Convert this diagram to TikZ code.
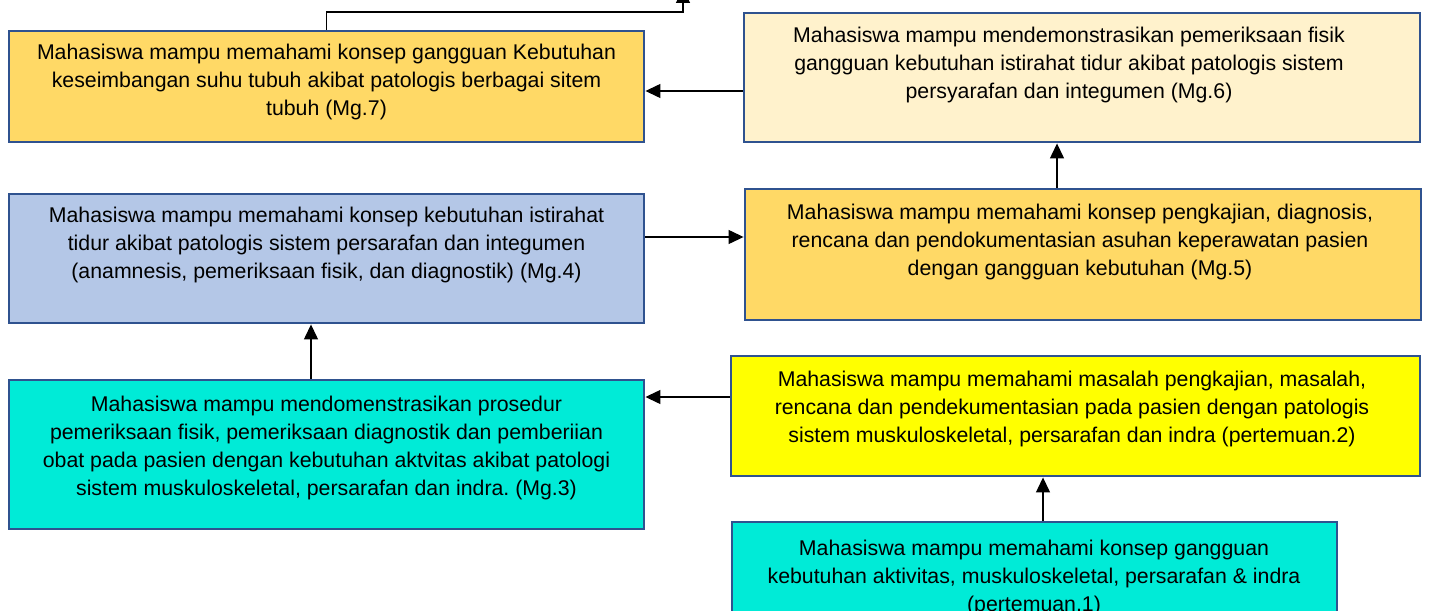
\documentclass[tikz,border=0pt]{standalone}
\usepackage{fontspec}
\setmainfont{Liberation Sans}
\usetikzlibrary{arrows.meta,calc}
\definecolor{bordc}{HTML}{2F528F}
\definecolor{gold}{HTML}{FFD966}
\definecolor{cream}{HTML}{FFF2CC}
\definecolor{lblue}{HTML}{B4C7E7}
\definecolor{turq}{HTML}{00EBD7}
\definecolor{yel}{HTML}{FFFF00}
\frenchspacing
\begin{document}
\begin{tikzpicture}[x=1pt,y=-1pt,
  box/.style={draw=bordc, line width=2.9pt, rectangle, inner sep=0pt},
  txt/.style={align=center, font=\fontsize{21.3}{28}\selectfont, inner sep=0pt},
  arr/.style={line width=1.3pt, -{Triangle[length=15pt,width=14pt]}}]
\useasboundingbox (0,0) rectangle (1431,610);
\clip (0,0) rectangle (1431,610);

\node[box, fill=gold, minimum width=635pt, minimum height=111pt] (mg7) at (326.5,86.5) {};
\node[box, fill=cream, minimum width=676pt, minimum height=129pt] (mg6) at (1082,77.5) {};
\node[box, fill=lblue, minimum width=635pt, minimum height=129pt] (mg4) at (326.5,258.5) {};
\node[box, fill=gold, minimum width=676pt, minimum height=131pt] (mg5) at (1083,254.5) {};
\node[box, fill=turq, minimum width=635pt, minimum height=149pt] (mg3) at (326.5,454.5) {};
\node[box, fill=yel, minimum width=689pt, minimum height=120pt] (p2) at (1075.5,416) {};
\node[box, fill=turq, minimum width=605pt, minimum height=158pt] (p1) at (1034.5,601) {};

\node[txt] (t7) at (326.5,82) {Mahasiswa mampu memahami konsep gangguan Kebutuhan\\keseimbangan suhu tubuh akibat patologis berbagai sitem\\tubuh (Mg.7)};
\node[txt] (t6) at (1069,65) {Mahasiswa mampu mendemonstrasikan pemeriksaan fisik\\gangguan kebutuhan istirahat tidur akibat patologis sistem\\persyarafan dan integumen (Mg.6)};
\node[txt] (t4) at (326.5,245) {Mahasiswa mampu memahami konsep kebutuhan istirahat\\tidur akibat patologis sistem persarafan dan integumen\\(anamnesis, pemeriksaan fisik, dan diagnostik) (Mg.4)};
\node[txt] (t5) at (1080,241.5) {Mahasiswa mampu memahami konsep pengkajian, diagnosis,\\rencana dan pendokumentasian asuhan keperawatan pasien\\dengan gangguan kebutuhan (Mg.5)};
\node[txt] (t3) at (326.5,448) {Mahasiswa mampu mendomenstrasikan prosedur\\pemeriksaan fisik, pemeriksaan diagnostik dan pemberiian\\obat pada pasien dengan kebutuhan aktvitas akibat patologi\\sistem muskuloskeletal, persarafan dan indra. (Mg.3)};
\node[txt] (tp2) at (1072,409) {Mahasiswa mampu memahami masalah pengkajian, masalah,\\rencana dan pendekumentasian pada pasien dengan patologis\\sistem muskuloskeletal, persarafan dan indra (pertemuan.2)};
\node[txt] (tp1) at (1034,578) {Mahasiswa mampu memahami konsep gangguan\\kebutuhan aktivitas, muskuloskeletal, persarafan \& indra\\(pertemuan.1)};

% connectors
\coordinate (bend) at (683,12);
\coordinate (topend) at (683,-12);
\draw[arr] (mg7.north) |- (bend) -- (topend);

\coordinate (a6) at ([yshift=-13.5pt]mg6.west);
\draw[arr] (a6) -- (a6 -| mg7.east);

\coordinate (a4) at ([yshift=21.5pt]mg4.east);
\draw[arr] (a4) -- (a4 -| mg5.west);

\coordinate (a2) at ([yshift=19pt]p2.west);
\draw[arr] (a2) -- (a2 -| mg3.east);

\coordinate (a3) at ([xshift=-15.5pt]mg3.north);
\draw[arr] (a3) -- (a3 |- mg4.south);

\coordinate (a5) at ([xshift=-26pt]mg5.north);
\draw[arr] (a5) -- (a5 |- mg6.south);

\coordinate (a1) at ([xshift=8.5pt]p1.north);
\draw[arr] (a1) -- (a1 |- p2.south);
\end{tikzpicture}
\end{document}
